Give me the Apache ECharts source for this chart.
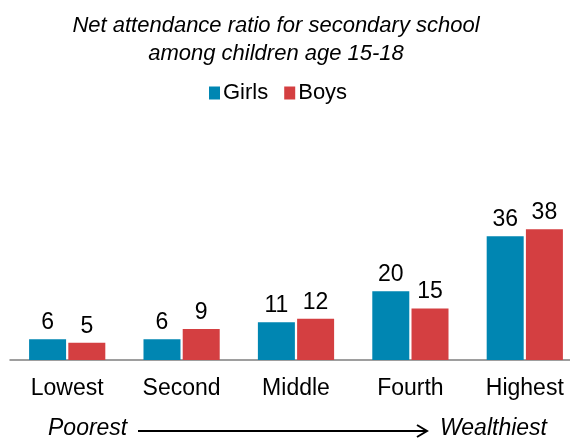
<!DOCTYPE html>
<html>
<head>
<meta charset="utf-8">
<script src="https://cdn.jsdelivr.net/npm/echarts@6/dist/echarts.min.js"></script>
<style>html,body{margin:0;padding:0;background:#fff}#c{width:570px;height:438px}</style>
</head>
<body>
<div id="c"></div>
<script>
const categories = ['Lowest', 'Second', 'Middle', 'Fourth', 'Highest'];
const girls = [6, 6, 11, 20, 36];
const boys = [5, 9, 12, 15, 38];
const seriesNames = ['Girls', 'Boys'];
const titleLines = ['Net attendance ratio for secondary school', 'among children age 15-18'];
const wealthEnds = ['Poorest', 'Wealthiest'];

const FONT = '"Liberation Sans", Arial, sans-serif';
const chart = echarts.init(document.getElementById('c'));
chart.setOption({
  animation: false,
  backgroundColor: '#fff',
  textStyle: { fontFamily: FONT },
  title: {
    text: titleLines.join('\n'),
    left: 271, top: 7, textAlign: 'center',
    textStyle: { fontFamily: FONT, fontSize: 22, fontStyle: 'italic', fontWeight: 'normal', color: '#000', lineHeight: 28 }
  },
  legend: {
    data: seriesNames,
    left: 204, top: 77,
    icon: 'rect', itemWidth: 11, itemHeight: 13, itemGap: 16,
    textStyle: { fontFamily: FONT, fontSize: 22, color: '#000', padding: [0, 0, 0, -2] }
  },
  grid: { left: 10, top: 222.4, width: 572, height: 137.6, outerBoundsMode: 'none', containLabel: false },
  xAxis: {
    type: 'category', data: categories,
    axisLine: { lineStyle: { color: '#7f7f7f', width: 1.5 } },
    axisTick: { show: false },
    axisLabel: { fontFamily: FONT, fontSize: 23, color: '#000', margin: 17 }
  },
  yAxis: { type: 'value', min: 0, max: 40, show: false, splitLine: { show: false } },
  series: [
    {
      name: seriesNames[0], type: 'bar', data: girls, barWidth: 37, barGap: '6%',
      itemStyle: { color: '#0086B2' },
      label: { show: true, position: 'top', distance: 5, fontFamily: FONT, fontSize: 23, color: '#000' }
    },
    {
      name: seriesNames[1], type: 'bar', data: boys, barWidth: 37,
      itemStyle: { color: '#D43F41' },
      label: { show: true, position: 'top', distance: 5, fontFamily: FONT, fontSize: 23, color: '#000' }
    }
  ],
  graphic: [
    { type: 'text', left: 48, top: 417, style: { text: wealthEnds[0], font: 'italic 23px ' + FONT, fill: '#000' } },
    { type: 'text', left: 440, top: 417, style: { text: wealthEnds[1], font: 'italic 23px ' + FONT, fill: '#000' } },
    { type: 'line', shape: { x1: 138, y1: 431, x2: 426, y2: 431 }, style: { stroke: '#000', lineWidth: 2 } },
    { type: 'polyline', shape: { points: [[417, 425], [427, 431], [417, 437]] }, style: { stroke: '#000', lineWidth: 2, fill: null } }
  ]
});
</script>
</body>
</html>
